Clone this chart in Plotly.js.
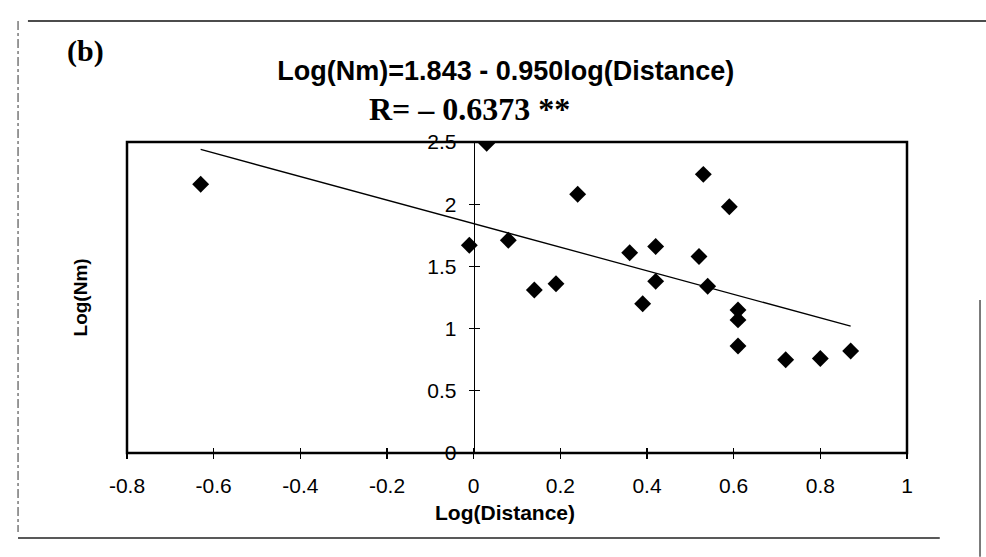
<!DOCTYPE html>
<html>
<head>
<meta charset="utf-8">
<script src="https://cdn.plot.ly/plotly-3.0.1.min.js"></script>
<style>
  html, body { margin: 0; padding: 0; background: #ffffff; }
  #chart { width: 986px; height: 557px; }
</style>
</head>
<body>
<div id="chart"></div>
<script>
// ---- data ----
var logDistance = [-0.63, 0.03, -0.01, 0.08, 0.14, 0.19, 0.24, 0.36, 0.42, 0.42, 0.39,
                   0.53, 0.52, 0.54, 0.59, 0.61, 0.61, 0.61, 0.72, 0.80, 0.87];
var logNm       = [2.16, 2.49, 1.67, 1.71, 1.31, 1.36, 2.08, 1.61, 1.66, 1.38, 1.20,
                   2.24, 1.58, 1.34, 1.98, 1.15, 1.07, 0.86, 0.75, 0.76, 0.82];

// regression line (Log(Nm) = 1.843 - 0.950 log(Distance)), end points
var fitX = [-0.63, 0.87];
var fitY = [2.44, 1.02];

var xTickVals  = [-0.8, -0.6, -0.4, -0.2, 0, 0.2, 0.4, 0.6, 0.8, 1];
var xTickText  = ['-0.8', '-0.6', '-0.4', '-0.2', '0', '0.2', '0.4', '0.6', '0.8', '1'];
var yTickVals  = [0, 0.5, 1, 1.5, 2, 2.5];
var yTickText  = ['0', '0.5', '1', '1.5', '2', '2.5'];

var titleText  = 'Log(Nm)=1.843 - 0.950log(Distance)';
var rText      = 'R= \u2013 0.6373 **';
var panelText  = '(b)';
var xTitleText = 'Log(Distance)';
var yTitleText = 'Log(Nm)';

// ---- chart ----
var sans  = 'Liberation Sans, Arial, sans-serif';
var serif = 'Liberation Serif, Times New Roman, serif';
var yAxisPos = 0.8 / 1.8;

var traces = [
  {
    x: logDistance, y: logNm, type: 'scatter', mode: 'markers',
    marker: { symbol: 'diamond', size: 13, color: '#000000' },
    hoverinfo: 'x+y', showlegend: false
  },
  {
    x: fitX, y: fitY, type: 'scatter', mode: 'lines',
    line: { color: '#000000', width: 1.3 },
    hoverinfo: 'skip', showlegend: false
  },
  { x: [], y: [], xaxis: 'x2', yaxis: 'y2', type: 'scatter', showlegend: false, hoverinfo: 'skip' }
];

var tickFont = { family: sans, size: 21, color: '#000000' };

var layout = {
  width: 986, height: 557,
  margin: { l: 127, r: 79, t: 142, b: 104 },
  paper_bgcolor: '#ffffff', plot_bgcolor: '#ffffff',
  showlegend: false,
  title: {
    text: '<b>' + titleText + '</b>',
    font: { family: sans, size: 27, color: '#000000' },
    xref: 'container', yref: 'container',
    x: 0.513, y: 1 - 71 / 557, xanchor: 'center', yanchor: 'middle'
  },
  xaxis: {
    range: [-0.8, 1], tickvals: xTickVals, ticktext: xTickText,
    showgrid: false, zeroline: false, showline: false,
    ticks: 'outside', ticklen: 5, tickwidth: 1.3, tickcolor: '#000000',
    tickfont: tickFont, ticklabelstandoff: 9, fixedrange: true
  },
  yaxis: {
    range: [0, 2.5], tickvals: yTickVals, ticktext: yTickText,
    anchor: 'free', position: yAxisPos,
    showgrid: false, zeroline: false,
    showline: true, linecolor: '#000000', linewidth: 1.3,
    ticks: 'outside', ticklen: 5, tickwidth: 1.3, tickcolor: '#000000',
    tickfont: tickFont, ticklabelstandoff: 8, fixedrange: true
  },
  xaxis2: {
    overlaying: 'x', anchor: 'y2', range: [-0.8, 1], tickvals: xTickVals,
    showticklabels: false, showgrid: false, zeroline: false, showline: false,
    ticks: 'inside', ticklen: 5, tickwidth: 1.3, tickcolor: '#000000', fixedrange: true
  },
  yaxis2: {
    overlaying: 'y', anchor: 'free', position: yAxisPos, range: [0, 2.5], tickvals: yTickVals,
    showticklabels: false, showgrid: false, zeroline: false, showline: false,
    ticks: 'inside', ticklen: 5, tickwidth: 1.3, tickcolor: '#000000', fixedrange: true
  },
  annotations: [
    { text: '<b>' + rText + '</b>', xref: 'paper', yref: 'paper', x: 0.4385, y: 1.106,
      xanchor: 'center', yanchor: 'middle', showarrow: false,
      font: { family: serif, size: 32, color: '#000000' } },
    { text: '<b>' + panelText + '</b>', xref: 'paper', yref: 'paper', x: -0.053, y: 1.293,
      xanchor: 'center', yanchor: 'middle', showarrow: false,
      font: { family: serif, size: 30, color: '#000000' } },
    { text: '<b>' + yTitleText + '</b>', xref: 'paper', yref: 'paper', x: -0.059, y: 0.5,
      xanchor: 'center', yanchor: 'middle', showarrow: false, textangle: -90,
      font: { family: sans, size: 19, color: '#000000' } },
    { text: '<b>' + xTitleText + '</b>', xref: 'paper', yref: 'paper', x: 0.4846, y: -0.19,
      xanchor: 'center', yanchor: 'middle', showarrow: false,
      font: { family: sans, size: 21, color: '#000000' } }
  ],
  shapes: [
    // plot frame
    { type: 'rect', xref: 'paper', yref: 'paper', x0: 0, x1: 1, y0: 0, y1: 1,
      line: { color: '#000000', width: 2.5 }, layer: 'above' },
    // figure border (scanned page frame)
    { type: 'line', xref: 'paper', yref: 'paper', x0: -0.127, x1: 1.103, y0: 1.389, y1: 1.389,
      line: { color: '#111111', width: 1.5 } },
    { type: 'line', xref: 'paper', yref: 'paper', x0: -0.1397, x1: -0.1397, y0: 1.389, y1: -0.254,
      line: { color: '#333333', width: 1, dash: 'dashdot' } },
    { type: 'line', xref: 'paper', yref: 'paper', x0: -0.1397, x1: 1.042, y0: -0.273, y1: -0.273,
      line: { color: '#222222', width: 1.5 } },
    { type: 'line', xref: 'paper', yref: 'paper', x0: 1.0936, x1: 1.0936, y0: 0.492, y1: -0.334,
      line: { color: '#222222', width: 1.2 } }
  ]
};

Plotly.newPlot('chart', traces, layout, { displayModeBar: false, staticPlot: true });
</script>
</body>
</html>
